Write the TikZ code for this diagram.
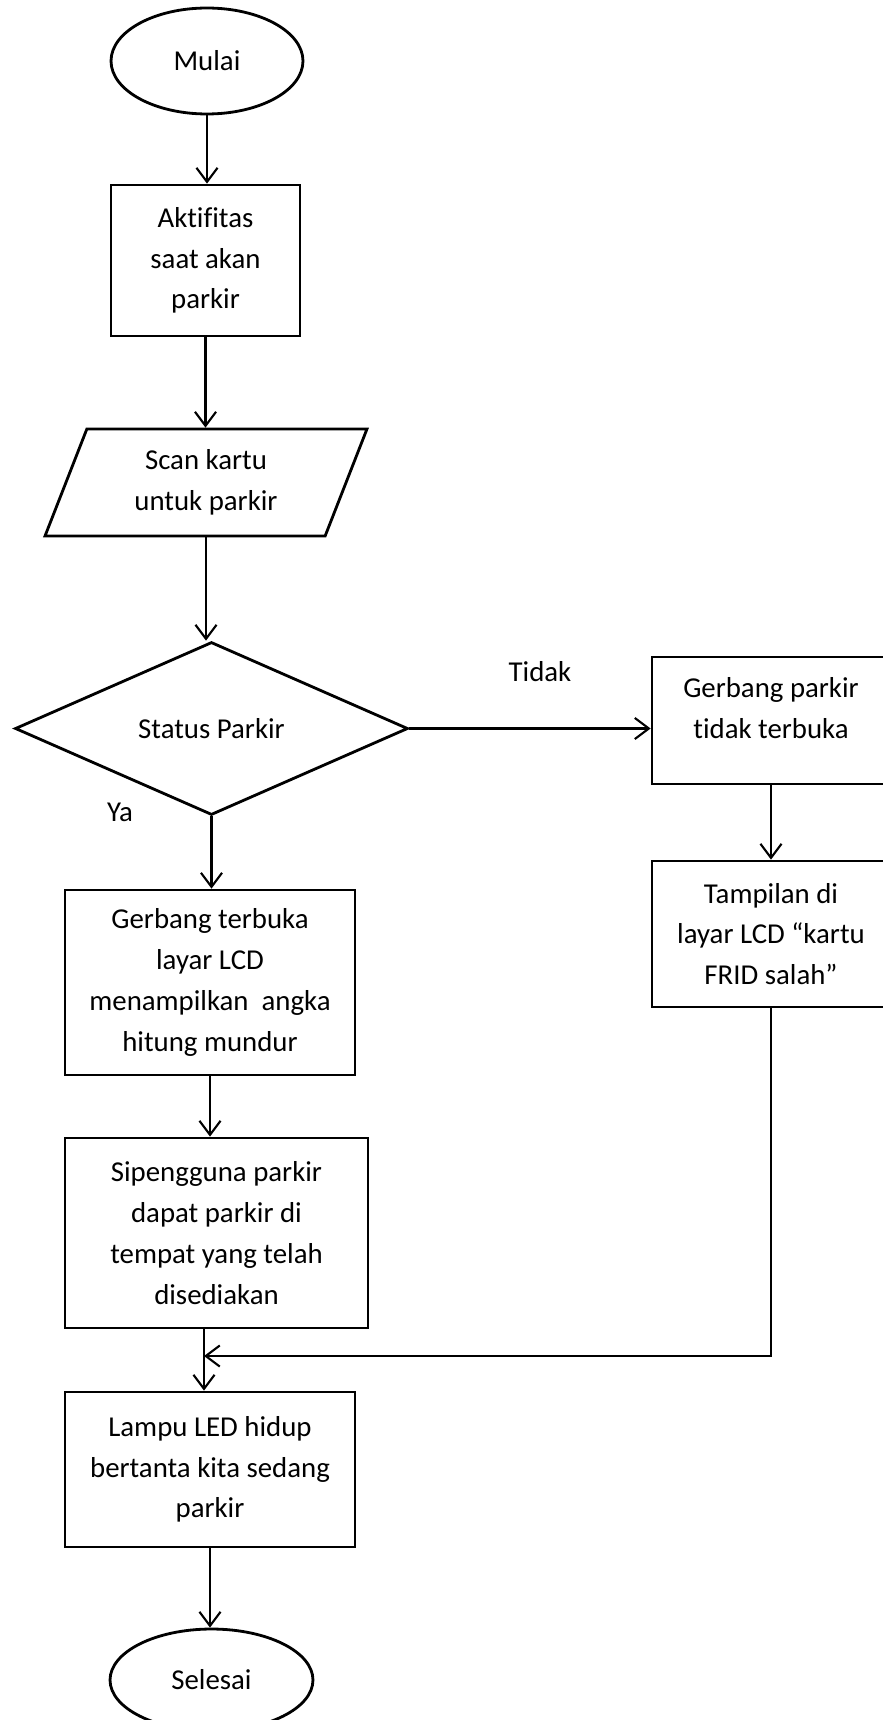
\documentclass[tikz,border=0pt]{standalone}
\usepackage{fontspec}
\setmainfont[Ligatures=NoCommon]{Carlito}
\usetikzlibrary{shapes.geometric,arrows.meta}

\begin{document}
\begin{tikzpicture}[x=0.02cm,y=-0.02cm,
	font=\fontsize{16.4}{23.2}\selectfont,
	box/.style={draw,line width=1.6pt,align=center,inner sep=2pt},
	terminal/.style={box,ellipse},
	process/.style={box,rectangle},
	inout/.style={box,trapezium,trapezium left angle=60,trapezium right angle=120,trapezium stretches body},
	decision/.style={box,diamond,aspect=2.27},
	line/.style={line width=1.3pt},
	arrow/.style={line,-{Straight Barb[length=8pt,width=12pt,line width=1.2pt]}}]

\def\colw{5.8cm}

\path [use as bounding box] (0,0) rectangle (882,1720);

% Nodes
\node [terminal,minimum width=3.84cm,minimum height=2.12cm] (mulai) at (207,61) {Mulai};
\node [process,minimum width=3.78cm,minimum height=3.02cm] (aktif) at (205.5,260.5) {Aktifitas\\saat akan\\parkir};
\node [inout,minimum width=6.44cm,minimum height=2.14cm] (scan) at (206,482.5) {Scan kartu\\untuk parkir};
\node [decision,minimum width=7.86cm,minimum height=3.46cm] (status) at (211.5,728.5) {Status Parkir};
\node [process,minimum width=4.76cm,minimum height=2.54cm,text depth=14pt] (tutup) at (771,720.5) {Gerbang parkir\\tidak terbuka};
\node [process,minimum width=4.76cm,minimum height=2.92cm] (tampil) at (771,934) {Tampilan di\\layar LCD “kartu\\FRID salah”};
\node [process,minimum width=\colw,minimum height=3.7cm] (buka) at (210,982.5) {Gerbang terbuka\\layar LCD\\menampilkan\ \ angka\\hitung mundur};
\node [process,minimum width=6.06cm,minimum height=3.8cm] (guna) at (216.5,1233) {Sipengguna parkir\\dapat parkir di\\tempat yang telah\\disediakan};
\node [process,minimum width=\colw,minimum height=3.1cm] (lampu) at (210,1469.5) {Lampu LED hidup\\bertanta kita sedang\\parkir};
\node [terminal,minimum width=4.06cm,minimum height=2.04cm] (selesai) at (211.5,1680) {Selesai};

% Labels
\node (tidak) at (540,672) {Tidak};
\node (ya) at (120,812) {Ya};

% Lines
\coordinate (gabung) at (204,1356);
\draw [arrow] (mulai.south) -- (mulai.south |- aktif.north);
\draw [arrow] (aktif.south) -- (aktif.south |- scan.north);
\draw [arrow] (scan.south) -- (scan.south |- status.north);
\draw [arrow] (status.east) -- (status.east -| tutup.west);
\draw [arrow] (status.south) -- (status.south |- buka.north);
\draw [arrow] (tutup.south) -- (tampil.north);
\draw [arrow] (buka.south) -- (buka.south |- guna.north);
\draw [arrow] (guna.south -| gabung) -- (gabung |- lampu.north);
\draw [arrow] (tampil.south) |- (gabung);
\draw [arrow] (lampu.south) -- (lampu.south |- selesai.north);

\end{tikzpicture}
\end{document}
